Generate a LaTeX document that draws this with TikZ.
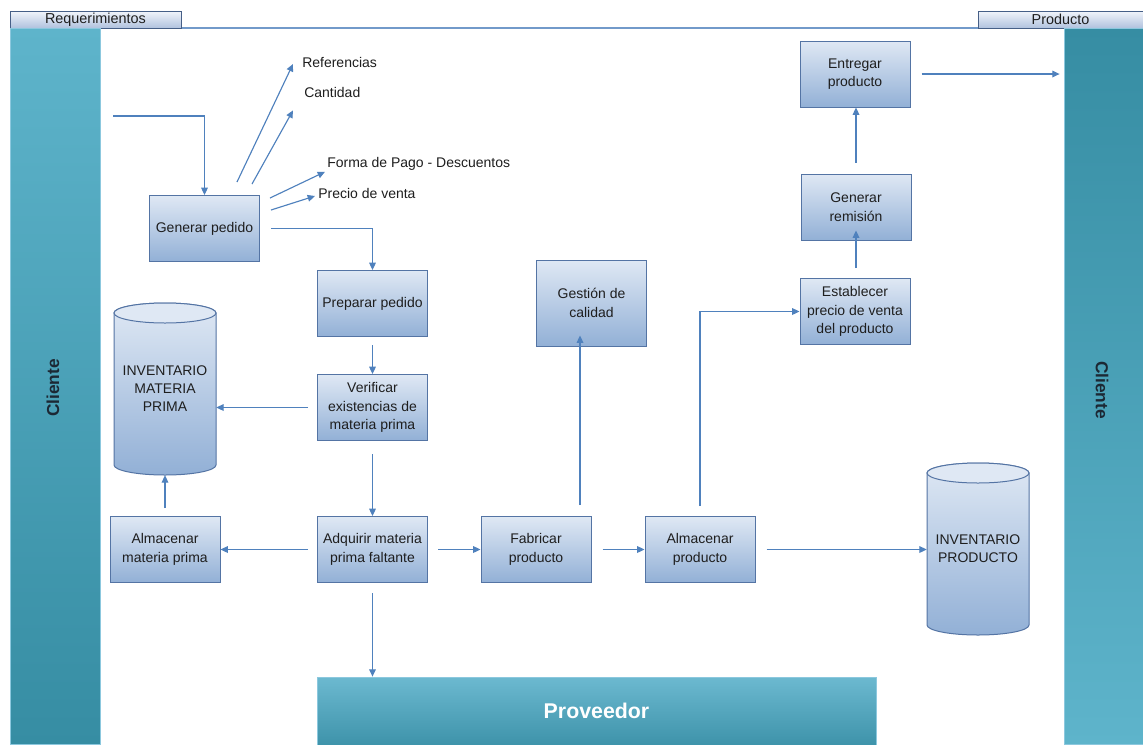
\documentclass[tikz,border=0pt]{standalone}
\usepackage{fontspec}
\setmainfont{Liberation Sans}
\usetikzlibrary{arrows.meta}
\definecolor{flow}{RGB}{79,129,189}
\definecolor{boxtop}{RGB}{223,232,244}
\definecolor{boxbot}{RGB}{146,176,214}
\definecolor{boxline}{RGB}{84,116,164}
\definecolor{laneL}{RGB}{94,180,203}
\definecolor{laneD}{RGB}{54,141,163}
\definecolor{laneedge}{RGB}{140,200,222}
\definecolor{provtop}{RGB}{108,185,208}
\definecolor{provbot}{RGB}{62,147,170}
\definecolor{tabtop}{RGB}{242,245,251}
\definecolor{tabbot}{RGB}{176,194,222}
\definecolor{tabline}{RGB}{70,95,135}
\definecolor{ink}{RGB}{30,30,30}
\definecolor{laneink}{RGB}{28,40,52}
\begin{document}
\begin{tikzpicture}[x=0.75pt,y=-0.75pt,
  every node/.style={font=\fontsize{10.5}{13.8}\selectfont, text=ink},
  proc/.style={draw=boxline, line width=0.75pt, top color=boxtop, bottom color=boxbot,
    minimum width=82.5pt, minimum height=49.5pt, inner sep=2pt, align=center},
  tab/.style={draw=tabline, line width=0.6pt, top color=tabtop, bottom color=tabbot,
    minimum height=12.75pt, inner sep=0pt, font=\fontsize{10.8}{12}\selectfont},
  lbl/.style={inner sep=0pt, anchor=west},
  store/.style={draw=boxline, line width=0.75pt, top color=boxtop, bottom color=boxbot},
  storetext/.style={minimum width=76.5pt, minimum height=129pt, inner sep=0pt, align=center,
    font=\fontsize{10.5}{13.5}\selectfont},
  lanetext/.style={font=\fontsize{13}{15}\bfseries, text=laneink},
  arr/.style={draw=flow, line width=0.85pt, -{Triangle[length=5.5pt,width=5pt]}}
]
\useasboundingbox (0,0) rectangle (1143,744);
\fill[white] (0,0) rectangle (1143,744);

% header line and tabs
\draw[flow!80, line width=0.8pt] (10,28) -- (1143,28);
\node[tab, minimum width=128.25pt] (treq) at (95.5,19.5) {Requerimientos};
\node[tab, minimum width=123.75pt] (tprod) at (1060.5,19.5) {Producto};

% swimlanes
\node[draw=laneedge, line width=0.6pt, top color=laneL, bottom color=laneD,
  minimum width=67.5pt, minimum height=537pt, inner sep=0pt] (clL) at (55,386) {};
\node[lanetext, rotate=90] (clLt) at (53,388) {Cliente};
\node[draw=laneedge, line width=0.6pt, top color=laneD, bottom color=laneL,
  minimum width=59.25pt, minimum height=537pt, inner sep=0pt] (clR) at (1103.5,386) {};
\node[lanetext, rotate=-90] (clRt) at (1102,390) {Cliente};
\node[draw=laneedge, line width=0.6pt, top color=provtop, bottom color=provbot,
  minimum width=419.25pt, minimum height=51pt, inner sep=0pt,
  font=\fontsize{16}{18}\bfseries, text=white] (prov) at (596.5,711) {Proveedor};

% process boxes
\node[proc] (gen)     at (204.5,228.5) {Generar pedido};
\node[proc] (prep)    at (372.5,303.5) {Preparar pedido};
\node[proc] (verif)   at (372.5,407.5) {Verificar\\existencias de\\materia prima};
\node[proc] (adq)     at (372.5,549.5) {Adquirir materia\\prima faltante};
\node[proc] (almmp)   at (165,549.5)   {Almacenar\\materia prima};
\node[proc] (fab)     at (536,549.5)   {Fabricar\\producto};
\node[proc] (almprod) at (700,549.5)   {Almacenar\\producto};
\node[proc, minimum height=64.5pt] (gest) at (591.5,303) {Gestión de\\calidad};
\node[proc] (estab)   at (855,311.5)   {Establecer\\precio de venta\\del producto};
\node[proc] (genrem)  at (856,207)     {Generar\\remisión};
\node[proc] (entr)    at (855,74)      {Entregar\\producto};

% stores (cylinders)
\path[store] (114,313) -- (114,465) arc[start angle=180, end angle=360, x radius=38.25pt, y radius=7.5pt]
  -- (216,313) arc[start angle=0, end angle=180, x radius=38.25pt, y radius=7.5pt] -- cycle;
\draw[boxline, line width=0.75pt, fill=boxtop] (165,313) ellipse[x radius=38.25pt, y radius=7.5pt];
\node[storetext] (invmp) at (165,389) {INVENTARIO\\MATERIA\\PRIMA};

\path[store] (927,473) -- (927,625) arc[start angle=180, end angle=360, x radius=38.25pt, y radius=7.5pt]
  -- (1029,473) arc[start angle=0, end angle=180, x radius=38.25pt, y radius=7.5pt] -- cycle;
\draw[boxline, line width=0.75pt, fill=boxtop] (978,473) ellipse[x radius=38.25pt, y radius=7.5pt];
\node[storetext] (invprod) at (978,549) {INVENTARIO\\PRODUCTO};

% order attributes
\node[lbl] (ref)  at (302,62)  {Referencias};
\node[lbl] (cant) at (304,92)  {Cantidad};
\node[lbl] (fp)   at (327,164) {Forma de Pago - Descuentos};
\node[lbl] (pv)   at (318,193) {Precio de venta};

% connectors
\coordinate (inp) at (113,116);
\draw[arr] (inp) -| (gen.north);
\draw[arr] ([shift={(88,-13)}]gen.north west) -- ([shift={(-9,2)}]ref.west);
\draw[arr] ([shift={(103,-11)}]gen.north west) -- ([shift={(-11,13)}]cant.south west);
\draw[arr] ([shift={(10,3)}]gen.north east) -- ([shift={(-2,1)}]fp.south west);
\draw[arr] ([shift={(11,15)}]gen.north east) -- ([shift={(-3,3)}]pv.west);
\draw[arr] ([shift={(11,0)}]gen.east) -| (prep.north);
\draw[arr] ([shift={(0,8)}]prep.south) -- (verif.north);
\draw[arr] ([shift={(-9,0)}]verif.west) -- (verif.west -| invmp.east);
\draw[arr] ([shift={(0,13)}]verif.south) -- (adq.north);
\draw[arr] ([shift={(-9,0)}]adq.west) -- (almmp.east);
\draw[arr] ([shift={(0,-8)}]almmp.north) -- (almmp.north |- invmp.south);
\draw[arr] ([shift={(10,0)}]adq.east) -- (fab.west);
\draw[arr] ([shift={(0,10)}]adq.south) -- (adq.south |- prov.north);
\draw[arr] ([shift={(44,-11)}]fab.north) -- ([shift={(44,-11)}]fab.north |- gest.south);
\draw[arr] ([shift={(11,0)}]fab.east) -- (almprod.west);
\draw[arr] ([shift={(0,-10)}]almprod.north) |- (estab.west);
\draw[arr] ([shift={(11,0)}]almprod.east) -- (almprod.east -| invprod.west);
\draw[arr] ([shift={(1,-10)}]estab.north) -- ([shift={(1,-10)}]estab.north |- genrem.south);
\draw[arr] ([shift={(0,-11)}]genrem.north) -- (genrem.north |- entr.south);
\draw[arr] ([shift={(11,0)}]entr.east) -- ([shift={(-4,0)}]entr.east -| clR.west);
\end{tikzpicture}
\end{document}
